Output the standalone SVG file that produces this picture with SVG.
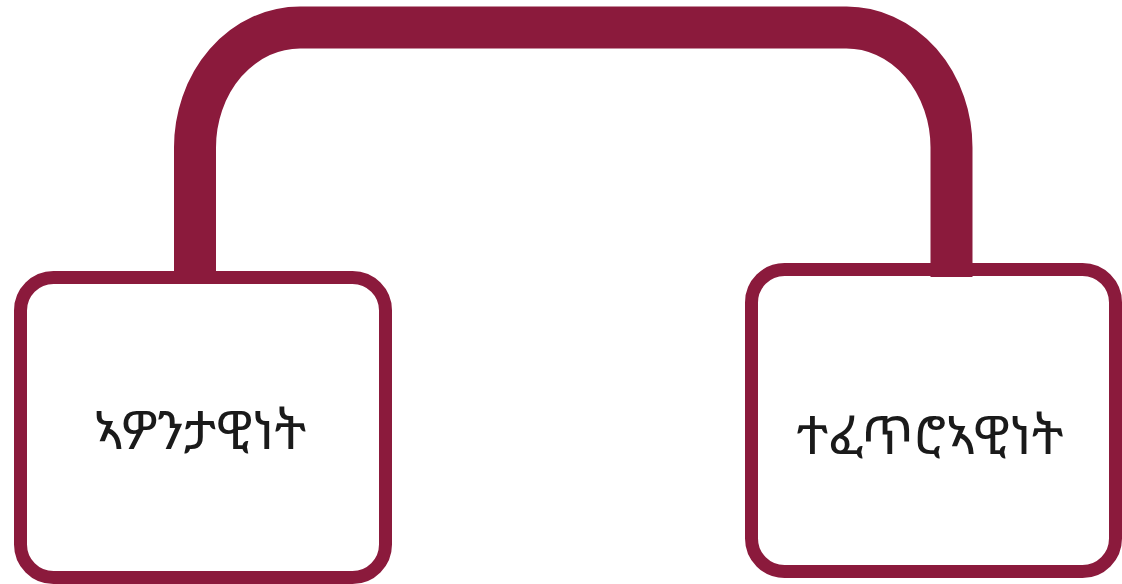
<svg xmlns="http://www.w3.org/2000/svg" width="1122" height="584" viewBox="0 0 1122 584">
<style>
.box{fill:#ffffff;stroke:#8b1a3c;stroke-width:13}
.conn{fill:none;stroke:#8b1a3c;stroke-width:42;stroke-linecap:butt}
.lbl{font-family:"Noto Sans Ethiopic","Abyssinica SIL","DejaVu Sans","Noto Sans",sans-serif;font-size:53px;fill:#1a1a1a;text-anchor:middle}
</style>
<rect width="1122" height="584" fill="#ffffff"/>
<g id="node-left">
<rect class="box" x="20.5" y="277.5" width="365" height="300" rx="33"/>
<text class="lbl" x="200" y="449">ኣዎንታዊነት</text>
</g>
<g id="node-right">
<rect class="box" x="751.5" y="269.5" width="364" height="302" rx="33"/>
<text class="lbl" x="930" y="454">ተፈጥሮኣዊነት</text>
</g>
<g id="connectors">
<path class="conn" d="M195,271 V148 A105,120 0 0 1 300,27.5 H846 A105,120 0 0 1 951.5,148 V277"/>
</g>
</svg>
